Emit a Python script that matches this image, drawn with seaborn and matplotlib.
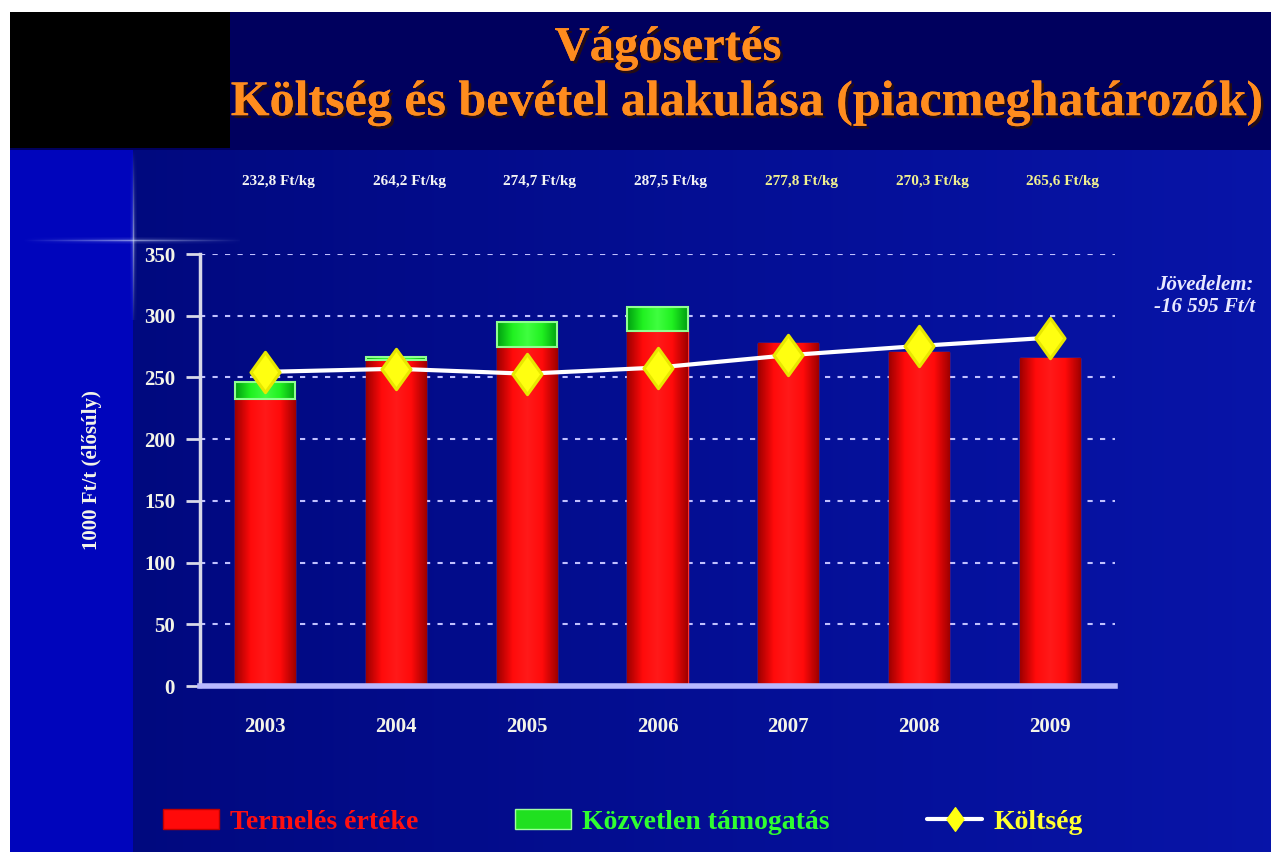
import numpy as np
import pandas as pd
import matplotlib
matplotlib.use("Agg")
import matplotlib.pyplot as plt
import matplotlib.patheffects as pe
from matplotlib.colors import LinearSegmentedColormap
from matplotlib.patches import Patch
from matplotlib.lines import Line2D
from matplotlib.path import Path
import matplotlib.transforms as mtransforms
import seaborn as sns

# ---------------- data ----------------
years = ["2003", "2004", "2005", "2006", "2007", "2008", "2009"]
termeles = [232.8, 264.2, 274.7, 287.5, 277.8, 270.3, 265.6]      # Termelés értéke
tamogatas = [13.5, 2.0, 20.0, 19.5, 0.0, 0.0, 0.0]                 # Közvetlen támogatás
koltseg = [254.5, 257.0, 253.0, 258.0, 268.0, 275.5, 282.2]        # Költség
y_ticks = [0, 50, 100, 150, 200, 250, 300, 350]
title1 = "Vágósertés"
title2 = "Költség és bevétel alakulása (piacmeghatározók)"
ylabel = "1000 Ft/t (élősúly)"
legend_labels = ["Termelés értéke", "Közvetlen támogatás", "Költség"]
income_note = "Jövedelem:\n-16 595 Ft/t"

df = pd.DataFrame({"year": years, "termeles": termeles,
                   "osszes": np.array(termeles) + np.array(tamogatas),
                   "koltseg": koltseg})

sns.set_theme(style="white")
plt.rcParams["font.family"] = ["Liberation Serif", "DejaVu Serif"]
plt.rcParams["font.weight"] = "bold"

W, H = 1271, 852
fig = plt.figure(figsize=(W / 100, H / 100), dpi=100)
fig.patch.set_facecolor("white")

# ---------------- background ----------------
bg = np.ones((H, W, 3))
yy, xx = np.mgrid[0:H, 0:W]
base = np.zeros((H, W, 3))
t = xx / W
base[..., 0] = 0.00 + 0.03 * t
base[..., 1] = 0.03 + 0.05 * t
base[..., 2] = 0.48 + 0.18 * t
left = (xx < 133)
base[left, 0] = 0.0
base[left, 1] = 0.02
base[left, 2] = 0.74
top = (yy < 150)
base[top, 0] = 0.0
base[top, 1] = 0.0
base[top, 2] = 0.37
bg[12:, 10:] = base[12:, 10:]
bg[12:148, 10:230] = 0.0
for dx in range(-3, 4):
    a = 0.6 * np.exp(-abs(dx) / 1.2)
    col = 133 + dx
    ys = np.arange(148, 320)
    fade = a * np.clip(1 - np.abs(ys - 240) / 90.0, 0, 1)
    bg[ys, col] = bg[ys, col] * (1 - fade[:, None]) + fade[:, None] * np.array([0.85, 0.9, 1.0])
for dy in range(-3, 4):
    a = 0.6 * np.exp(-abs(dy) / 1.2)
    row = 240 + dy
    xs = np.arange(10, 240)
    fade = a * np.clip(1 - np.abs(xs - 133) / 110.0, 0, 1)
    bg[row, xs] = bg[row, xs] * (1 - fade[:, None]) + fade[:, None] * np.array([0.85, 0.9, 1.0])

bax = fig.add_axes([0, 0, 1, 1], zorder=-10)
bax.imshow(bg, aspect="auto", extent=[0, 1, 0, 1], interpolation="bilinear")
bax.set_axis_off()

# ---------------- main axes ----------------
ax = fig.add_axes([200 / W, 1 - 686 / H, 915 / W, 432 / H])
ax.set_facecolor("none")

sns.barplot(data=df, x="year", y="osszes", color="#10d010", width=0.46,
            edgecolor="none", linewidth=0, ax=ax, zorder=2)
n_green = len(ax.patches)
sns.barplot(data=df, x="year", y="termeles", color="#ff0000", width=0.46,
            edgecolor="#ff3030", linewidth=1.0, ax=ax, zorder=3)

red_cmap = LinearSegmentedColormap.from_list("r", ["#a00000", "#ff0a0a", "#ff1a1a", "#ff0a0a", "#a00000"])
green_cmap = LinearSegmentedColormap.from_list("g", ["#00a010", "#20f020", "#40ff40", "#20f020", "#00a010"])
grad = np.linspace(0, 1, 64).reshape(1, -1)
patches = list(ax.patches)
for i, p in enumerate(patches):
    x0, y0, w, h = p.get_x(), p.get_y(), p.get_width(), p.get_height()
    if h <= 0:
        continue
    is_green = i < n_green
    cm = green_cmap if is_green else red_cmap
    z = 2.1 if is_green else 3.1
    im = ax.imshow(grad, extent=[x0, x0 + w, y0, y0 + h], aspect="auto",
                   cmap=cm, zorder=z, interpolation="bilinear")
    im.set_clip_path(p)
    if is_green:
        red_top = patches[n_green + i].get_height()
        if h - red_top > 0.5:
            ax.add_patch(plt.Rectangle((x0, red_top), w, h - red_top, fill=False,
                                       edgecolor="#90ff90", linewidth=1.5, zorder=3.3))

diamond = Path([(0, 1), (0.72, 0), (0, -1), (-0.72, 0), (0, 1)],
               [Path.MOVETO, Path.LINETO, Path.LINETO, Path.LINETO, Path.CLOSEPOLY])
sns.pointplot(data=df, x="year", y="koltseg", color="white", markers="o",
              linewidth=3, markersize=20, ax=ax, zorder=5)
for ln in ax.lines:
    ln.set_marker(diamond)
    ln.set_markersize(29)
    ln.set_markerfacecolor("#ffff10")
    ln.set_markeredgecolor("#e8e800")
    ln.set_zorder(5)

ax.set_xlim(-0.5, 6.5)
ax.set_ylim(0, 350)
ax.set_yticks(y_ticks)
ax.set_yticklabels([str(v) for v in y_ticks])
ax.set_xticks(range(len(years)))
ax.set_xticklabels(years)
ax.set_xticks(np.arange(-0.5, 7.0, 1.0), minor=True)
ax.tick_params(axis="x", which="major", length=0, pad=22, labelsize=15, labelcolor="#f4f4e8")
ax.tick_params(axis="x", which="minor", length=8, width=2, color="#d0d0ff", direction="out")
ax.tick_params(axis="y", length=10, width=2, color="#d8d8e8", direction="out", pad=8,
               labelsize=15, labelcolor="#f4f4e8", left=True)
for lab in ax.get_xticklabels() + ax.get_yticklabels():
    lab.set_fontweight("bold")

ax.yaxis.grid(True, color="#c0c0ff", linestyle=(0, (2.5, 3.5)), linewidth=1.5, zorder=0)
ax.set_axisbelow(True)
for s in ["top", "right"]:
    ax.spines[s].set_visible(False)
ax.spines["left"].set_color("#d8d8e8")
ax.spines["left"].set_linewidth(2.5)
ax.spines["bottom"].set_color("#b8b8ff")
ax.spines["bottom"].set_linewidth(4)
ax.spines["bottom"].set_zorder(6)

ax.set_xlabel("")
ax.set_ylabel(ylabel, color="#f4f4e8", fontsize=15, fontweight="bold", labelpad=30)

blend = mtransforms.blended_transform_factory(ax.transData, fig.transFigure)
for i, v in enumerate(termeles):
    txt = f"{v:.1f}".replace(".", ",") + " Ft/kg"
    col = "#f4f4f4" if i < 4 else "#f0f090"
    ax.text(i + 0.1, 1 - 181 / H, txt, transform=blend, ha="center", va="center",
            fontsize=11, fontweight="bold", color=col, clip_on=False)

shadow = [pe.withSimplePatchShadow(offset=(2, -2), shadow_rgbFace="#301000", alpha=0.8), pe.Normal()]
fig.text(668 / W, 1 - 48 / H, title1, ha="center", va="center", fontsize=35,
         fontweight="bold", color="#ff8c1e", path_effects=shadow)
fig.text(747 / W, 1 - 103 / H, title2, ha="center", va="center", fontsize=36,
         fontweight="bold", color="#ff8c1e", path_effects=shadow)

fig.text(1205 / W, 1 - 296 / H, income_note, ha="center", va="center", fontsize=15,
         fontweight="bold", style="italic", color="#e8e8ff", linespacing=1.15)

handles = [Patch(facecolor="#ff0a0a", edgecolor="#c00000"),
           Patch(facecolor="#20e020", edgecolor="#a0ffa0"),
           Line2D([0], [0], color="white", lw=3, marker=diamond, markersize=17,
                  markerfacecolor="#ffff10", markeredgecolor="#ffff10")]
leg = fig.legend(handles, legend_labels, loc="center", bbox_to_anchor=(623 / W, 1 - 822 / H),
                 ncol=3, frameon=False, handlelength=2.0, handleheight=0.7,
                 handletextpad=0.4, columnspacing=3.5, prop={"weight": "bold", "size": 20})
for txt, c in zip(leg.get_texts(), ["#ff1010", "#30ff30", "#ffff30"]):
    txt.set_color(c)

fig.savefig("out.png", dpi=100, facecolor=fig.get_facecolor())
